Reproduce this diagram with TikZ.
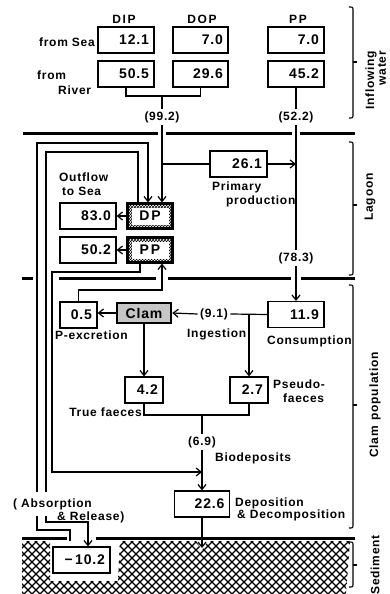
\documentclass[tikz,border=0pt]{standalone}
\usepackage{fontspec}
\setmainfont{Liberation Sans}
\newfontfamily\lf[LetterSpace=6]{Liberation Sans}
\newfontfamily\hf[LetterSpace=14]{Liberation Sans}
\usetikzlibrary{arrows.meta,patterns}
\begin{document}
\begin{tikzpicture}[x=1pt,y=-1pt,
  every node/.style={inner sep=0pt},
  lab/.style={font=\lf\bfseries\fontsize{12}{13}\selectfont},
  val/.style={lab, inner sep=2.5pt},
  hdr/.style={font=\hf\bfseries\fontsize{12}{13}\selectfont},
  num/.style={draw, line width=1.2pt, minimum height=26pt, inner xsep=5pt, inner ysep=0pt, align=right, font=\lf\bfseries\fontsize{14}{15}\selectfont},
  dpbox/.style={draw, line width=2.2pt, minimum width=45pt, minimum height=25pt, font=\hf\bfseries\fontsize{14}{15}\selectfont,
    path picture={\fill[pattern=crosshatch] (path picture bounding box.south west) rectangle (path picture bounding box.north east);
      \fill[white] ([shift={(4pt,4pt)}]path picture bounding box.south west) rectangle ([shift={(-4pt,-4pt)}]path picture bounding box.north east);}},
  clambox/.style={draw, line width=2.6pt, fill=gray!45, minimum width=54pt, minimum height=20pt, font=\lf\bfseries\fontsize{14}{15}\selectfont},
  ln/.style={line width=1.2pt},
  arr/.style={line width=1.2pt, -{Straight Barb[length=5pt,width=8pt,line width=1.2pt]}},
  sep/.style={line width=3pt},
  brace/.style={line width=1.1pt},
  sidelab/.style={lab, rotate=90}
]
\useasboundingbox (0,0) rectangle (390,594);

% sediment hatch
\begin{scope}
\clip (22,541) -- (50,541) -- (50,581) -- (118,581) -- (120,541) -- (196,541) -- (202,550) -- (208,541) -- (350,541) -- (346,594) -- (22,594) -- cycle;
\foreach \i in {-72,-64,...,424} {
  \draw[line width=1.2pt] (\i,538) -- ++(60,60);
  \draw[line width=1.2pt] (\i,538) -- ++(-60,60);
}
\end{scope}

% separators
\draw[sep] (23,133) -- (158,133) (166,133) -- (292,133) (300,133) -- (355,133);
\draw[sep] (22,278) -- (33,278) (59,278) -- (156,278) (168,278) -- (291,278) (301,278) -- (355,278);
\draw[sep] (22,538) -- (67,538) (96,538) -- (355,538);

% braces
\draw[brace] (349,7) .. controls (353,7) .. (353,11) -- (353,114) .. controls (353,118) .. (349,118);
\draw[brace] (353,62) -- (357,62);
\draw[brace] (349,142) .. controls (353,142) .. (353,146) -- (353,271) .. controls (353,275) .. (349,275);
\draw[brace] (353,205) -- (357,205);
\draw[brace] (349,285) .. controls (353,285) .. (353,289) -- (353,524) .. controls (353,528) .. (349,528);
\draw[brace] (353,405) -- (357,405);
\draw[brace] (349,542) .. controls (353,542) .. (353,546) -- (353,583) .. controls (353,587) .. (349,587);
\draw[brace] (353,565) -- (357,565);

\node[sidelab] (tInf) at (371,80) {Inflowing};
\node[sidelab, anchor=east] (tWater) at (382,51) {water};
\node[sidelab] (tLag) at (370,197) {Lagoon};
\node[sidelab] (tClamPop) at (375,405) {Clam\hspace{6pt}population};
\node[sidelab] (tSed) at (375,565) {Sediment};

% headers
\node[hdr] (hDIP) at (124,19) {DIP};
\node[hdr] (hDOP) at (202,19) {DOP};
\node[hdr] (hPP) at (298,19) {PP};

% boxes
\node[num, text width=46pt] (b121) at (126,40) {12.1};
\node[num, text width=46pt] (b505) at (126,74) {50.5};
\node[num, text width=45pt] (bdop) at (200.5,40) {7.0};
\node[num, text width=45pt] (b296) at (200.5,74) {29.6};
\node[num, text width=46pt] (bpp) at (296,40) {7.0};
\node[num, text width=46pt] (b452) at (296,74) {45.2};
\node[num, text width=47pt] (b261) at (238.5,164) {26.1};
\node[num, text width=46pt] (b830) at (88,216) {83.0};
\node[num, text width=46pt] (b502) at (88,250) {50.2};
\node[dpbox] (DP) at (150,216) {DP};
\node[dpbox] (PPb) at (150,250) {PP};
\node[num, text width=27pt] (b05) at (78.5,315) {0.5};
\node[clambox] (clam) at (144,313) {Clam};
\node[num, text width=46pt] (b119) at (296,314.5) {11.9};
\node[num, text width=28pt] (b42) at (144,390) {4.2};
\node[num, text width=28pt] (b27) at (249,390) {2.7};
\node[num, text width=45pt] (b226) at (202,504) {22.6};
\node[num, text width=47pt, fill=white] (b102) at (81.5,560) {−\,10.2};

% labels
\node[lab, anchor=east] (tSea) at (95,42) {from Sea};
\node[lab, anchor=west] (tFrom) at (37,75) {from};
\node[lab, anchor=west] (tRiver) at (58,90) {River};
\node[val] (l99) at (162,117) {(99.2)};
\node[val] (l522) at (296,117) {(52.2)};
\node[lab, anchor=west] (tOut) at (59,177) {Outflow};
\node[lab, anchor=west] (tToSea) at (62,191) {to Sea};
\node[lab, anchor=west] (tPrim) at (212,187) {Primary};
\node[lab, anchor=west] (tProd) at (226,201) {production};
\node[val] (l783) at (296,258) {(78.3)};
\node[lab, anchor=west] (tPex) at (55,335) {P-excretion};
\node[val] (l91) at (214,314) {(9.1)};
\node[lab, anchor=west] (tIng) at (187,334) {Ingestion};
\node[lab, anchor=west] (tCons) at (267,341) {Consumption};
\node[lab, anchor=east] (tTrue) at (142,412) {True faeces};
\node[lab, anchor=west] (tPs1) at (273,384) {Pseudo-};
\node[lab, anchor=west] (tPs2) at (283,398) {faeces};
\node[val] (l69) at (202,442) {(6.9)};
\node[lab, anchor=west] (tBio) at (215,458) {Biodeposits};
\node[lab, anchor=west] (tDep) at (235,503) {Deposition};
\node[lab, anchor=west] (tDec) at (237,515) {\& Decomposition};

% helper coordinates
\coordinate (j1) at (162,96);
\coordinate (x138) at (138,0);
\coordinate (x140) at (140,0);
\coordinate (x148) at (148,0);
\coordinate (x162) at (162,0);
\coordinate (x88) at (88,0);
\coordinate (relS) at (70,541);
\coordinate (j472) at (202,472);
\coordinate (j91) at (249,314);
\coordinate (j415) at (202,415);
\coordinate (notch) at (202,548);

% connectors
\draw[ln] (b505.south) |- (j1) -| (b296.south);
\draw[ln] (j1) -- (l99.north);
\draw[arr] (l99.south) -- (DP.north -| x162);
\draw[ln] (l99.south |- b261.west) -- (b261.west);
\draw[arr] (b261.east) -- (b261.east -| l522.south);
\draw[ln] (b452.south) -- (l522.north);
\draw[ln] (l522.south) -- (l783.north);
\draw[arr] (l783.south) -- (b119.north);
\draw[arr] (DP.west) -- (b830.east);
\draw[arr] (PPb.west) -- (b502.east);
\draw[arr] (relS) -- (70,530) -- (37,530) -- (37,143) -- (148,143) -- (DP.north -| x148);
\draw[arr] (DP.north -| x138) -- (138,152) -- (46,152) -- (46,522) -- (88,522) -- (b102.north -| x88);
\draw[arr] (PPb.south -| x140) -- (140,272) -- (52,272) -- (52,472) -- (j472);
\draw[arr] (b05.north) -- (78.5,290) -- (162,290) -- (PPb.south -| x162);
\draw[arr] (clam.west) -- (clam.west -| b05.east);
\draw[ln] (b119.west) -- (l91.east);
\draw[arr] (l91.west) -- (clam.east);
\draw[arr] (j91) -- (b27.north);
\draw[arr] (clam.south) -- (b42.north);
\draw[ln] (b42.south) |- (j415) -| (b27.south);
\draw[ln] (j415) -- (l69.north);
\draw[arr] (l69.south) -- (b226.north);
\draw[arr] (b226.south) -- (notch);

% absorption labels knock out the loop lines behind them
\node[lab, anchor=west, fill=white, inner xsep=1pt, inner ysep=6pt] (tAbs) at (12,504) {( Absorption};
\node[lab, anchor=west] (tRel) at (57,517) {\& Release)};
\end{tikzpicture}
\end{document}
